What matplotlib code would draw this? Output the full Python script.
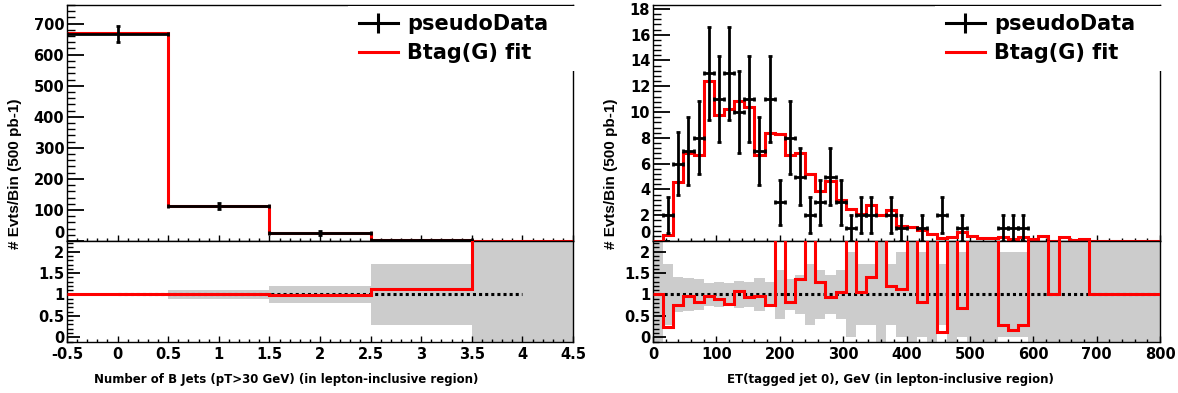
import numpy as np
import matplotlib
matplotlib.use("Agg")
import matplotlib.pyplot as plt
from matplotlib.ticker import MultipleLocator, FuncFormatter
from matplotlib.lines import Line2D
from matplotlib.patches import Rectangle

# ---------------- data : left, number of b jets ----------------
nb_centers = [0, 1, 2, 3, 4]
nb_data = [668, 113, 26, 2, 0]
nb_fit = [670, 114, 25.5, 2.25, 0.3]

# ---------------- data : right, ET(tagged jet 0), 16 GeV bins ----------------
et_bin_width = 16
et_data = [0, 2, 6, 7, 8, 13, 11, 13, 10, 11,
           7, 11, 3, 8, 5, 2, 3, 5, 3, 1,
           2, 2, 0, 2, 1, 0, 1, 0, 2, 0,
           1, 0, 0, 0, 1, 1, 1, 0, 0, 0,
           0, 0, 0, 0, 0, 0, 0, 0, 0, 0]
et_fit = [0.0, 0.5, 4.55, 6.8, 6.65, 12.4, 9.75, 10.25, 10.85, 10.4,
          6.68, 8.38, 8.33, 6.63, 6.83, 5.18, 3.86, 4.69, 3.15, 2.5,
          2.13, 2.83, 2.0, 2.38, 1.13, 1.1, 0.82, 0.58, 0.26, 0.32,
          0.68, 0.4, 0.24, 0.24, 0.28, 0.17, 0.28, 0.17, 0.4, 0.0,
          0.28, 0.1, 0.17, 0.0, 0.0, 0.0, 0.0, 0.0, 0.0, 0.0]

ylabel_text = "# Evts/Bin (500 pb-1)"
xlabel_left = "Number of B Jets (pT>30 GeV) (in lepton-inclusive region)"
xlabel_right = "ET(tagged jet 0), GeV (in lepton-inclusive region)"
legend_labels = ["pseudoData", "Btag(G) fit"]

RED = "#ff0000"
GREY = "#cccccc"
TICKFONT = dict(family="DejaVu Sans", weight="bold", size=10.5)

W, H = 1178, 393
fig = plt.figure(figsize=(W / 100, H / 100), dpi=100)


def px_axes(x0, x1, y0, y1):
    return fig.add_axes([x0 / W, 1 - y1 / H, (x1 - x0) / W, (y1 - y0) / H])


def ratio_of(d, f):
    d = np.asarray(d, float)
    f = np.asarray(f, float)
    r = np.ones_like(d)
    nz = d > 0
    r[nz] = f[nz] / d[nz]
    r[(~nz) & (f > 0)] = 50.0
    return r


def band_of(d):
    d = np.asarray(d, float)
    lo = np.full_like(d, -5.0)
    hi = np.full_like(d, 5.0)
    nz = d > 0
    lo[nz] = 1 - 1 / np.sqrt(d[nz])
    hi[nz] = 1 + 1 / np.sqrt(d[nz])
    return lo, hi


def fmt_num(v, pos):
    s = "%g" % v
    return "0" if s in ("-0",) else s


def style_axes(ax, ytick_major_len, ytick_minor_len):
    for s in ax.spines.values():
        s.set_linewidth(1.0)
        s.set_color("black")
    ax.tick_params(which="both", direction="in", top=False, right=False)
    ax.tick_params(axis="y", which="major", length=ytick_major_len, width=1.3, pad=2)
    ax.tick_params(axis="y", which="minor", length=ytick_minor_len, width=1.0)
    ax.tick_params(axis="x", which="major", length=4.5, width=1.0, pad=3.5)
    ax.tick_params(axis="x", which="minor", length=2.2, width=1.0)
    for lab in ax.get_xticklabels() + ax.get_yticklabels():
        lab.set_fontproperties(matplotlib.font_manager.FontProperties(**TICKFONT))


def draw_pair(ax, rax, centers, width, data, fit, xlim, xmaj, xmin_, ylim, ymaj, ymin_):
    centers = np.asarray(centers, float)
    data = np.asarray(data, float)
    fit = np.asarray(fit, float)
    edges = np.append(centers - width / 2, centers[-1] + width / 2)

    # top panel
    ax.stairs(fit, edges, baseline=None, color=RED, lw=2.2, zorder=3)
    m = data > 0
    ax.errorbar(centers[m], data[m], xerr=width / 2, yerr=np.sqrt(data[m]),
                fmt="none", ecolor="black", elinewidth=2.0, capsize=1.6,
                capthick=2.0, zorder=4)
    ax.set_xlim(*xlim)
    ax.set_ylim(*ylim)
    ax.xaxis.set_major_locator(MultipleLocator(xmaj))
    ax.xaxis.set_minor_locator(MultipleLocator(xmin_))
    ax.yaxis.set_major_locator(MultipleLocator(ymaj))
    ax.yaxis.set_minor_locator(MultipleLocator(ymin_))
    ax.tick_params(labelbottom=False)
    ax.yaxis.set_major_formatter(FuncFormatter(fmt_num))
    style_axes(ax, 12, 6)

    # ratio panel
    lo, hi = band_of(data)
    rax.bar(centers, hi - lo, bottom=lo, width=width, color=GREY, lw=0, zorder=1)
    rax.plot([centers[0], centers[-1]], [1, 1], color="black", lw=2.2,
             ls=(0, (1, 1)), zorder=2)
    rax.stairs(ratio_of(data, fit), edges, baseline=None, color=RED, lw=2.2, zorder=3)
    rax.set_xlim(*xlim)
    rax.set_ylim(-0.11, 2.25)
    rax.xaxis.set_major_locator(MultipleLocator(xmaj))
    rax.xaxis.set_minor_locator(MultipleLocator(xmin_))
    rax.yaxis.set_major_locator(MultipleLocator(0.5))
    rax.yaxis.set_minor_locator(MultipleLocator(0.1))
    rax.xaxis.set_major_formatter(FuncFormatter(fmt_num))
    rax.yaxis.set_major_formatter(FuncFormatter(fmt_num))
    style_axes(rax, 9.5, 4.5)

    # shift the "0" label of the top panel upward (as in the original)
    fig.canvas.draw()
    for t, lab in zip(ax.get_yticks(), ax.get_yticklabels()):
        if abs(t) < 1e-9:
            lab.set_va("bottom")

    # legend
    handles = [Line2D([], [], color="black", lw=2.2, marker="|", markersize=14,
                      markeredgewidth=2.2),
               Line2D([], [], color=RED, lw=2.2)]
    bb = ax.get_position()
    # white box covering the upper right frame (below the top border)
    rect = Rectangle((bb.x1 - 225 / W, bb.y1 - 66 / H), 232 / W, 64.5 / H,
                     transform=fig.transFigure, facecolor="white",
                     edgecolor="none", zorder=10)
    fig.add_artist(rect)
    leg = fig.legend(handles, legend_labels, loc="upper left",
                     bbox_to_anchor=(bb.x1 - 214 / W, bb.y1 - 9 / H),
                     bbox_transform=fig.transFigure, frameon=False,
                     prop=dict(family="DejaVu Sans", weight="bold", size=15),
                     handlelength=1.85, handletextpad=0.45, labelspacing=0.45,
                     borderpad=0, borderaxespad=0)
    leg.set_zorder(11)


axL = px_axes(67, 573, 5, 241)
rL = px_axes(67, 573, 241, 342)
axR = px_axes(653, 1160, 5, 241)
rR = px_axes(653, 1160, 241, 342)

draw_pair(axL, rL, nb_centers, 1.0, nb_data, nb_fit,
          (-0.5, 4.5), 0.5, 0.1, (0, 760), 100, 20)

et_centers = np.arange(len(et_data)) * et_bin_width + et_bin_width / 2
draw_pair(axR, rR, et_centers, et_bin_width, et_data, et_fit,
          (0, 800), 100, 20, (0, 18.3), 2, 0.4)

# axis titles
yl_font = dict(family="Liberation Sans", weight="bold", size=11)
fig.text(15 / W, 1 - 174 / H, ylabel_text, rotation=90, ha="center", va="center", **yl_font)
fig.text(611 / W, 1 - 174 / H, ylabel_text, rotation=90, ha="center", va="center", **yl_font)
xl_font = dict(family="DejaVu Sans", weight="bold", size=8.5)
fig.text(286 / W, 1 - 380 / H, xlabel_left, ha="center", va="center", **xl_font)
fig.text(890 / W, 1 - 380 / H, xlabel_right, ha="center", va="center", **xl_font)

fig.savefig("out.png", dpi=100)
